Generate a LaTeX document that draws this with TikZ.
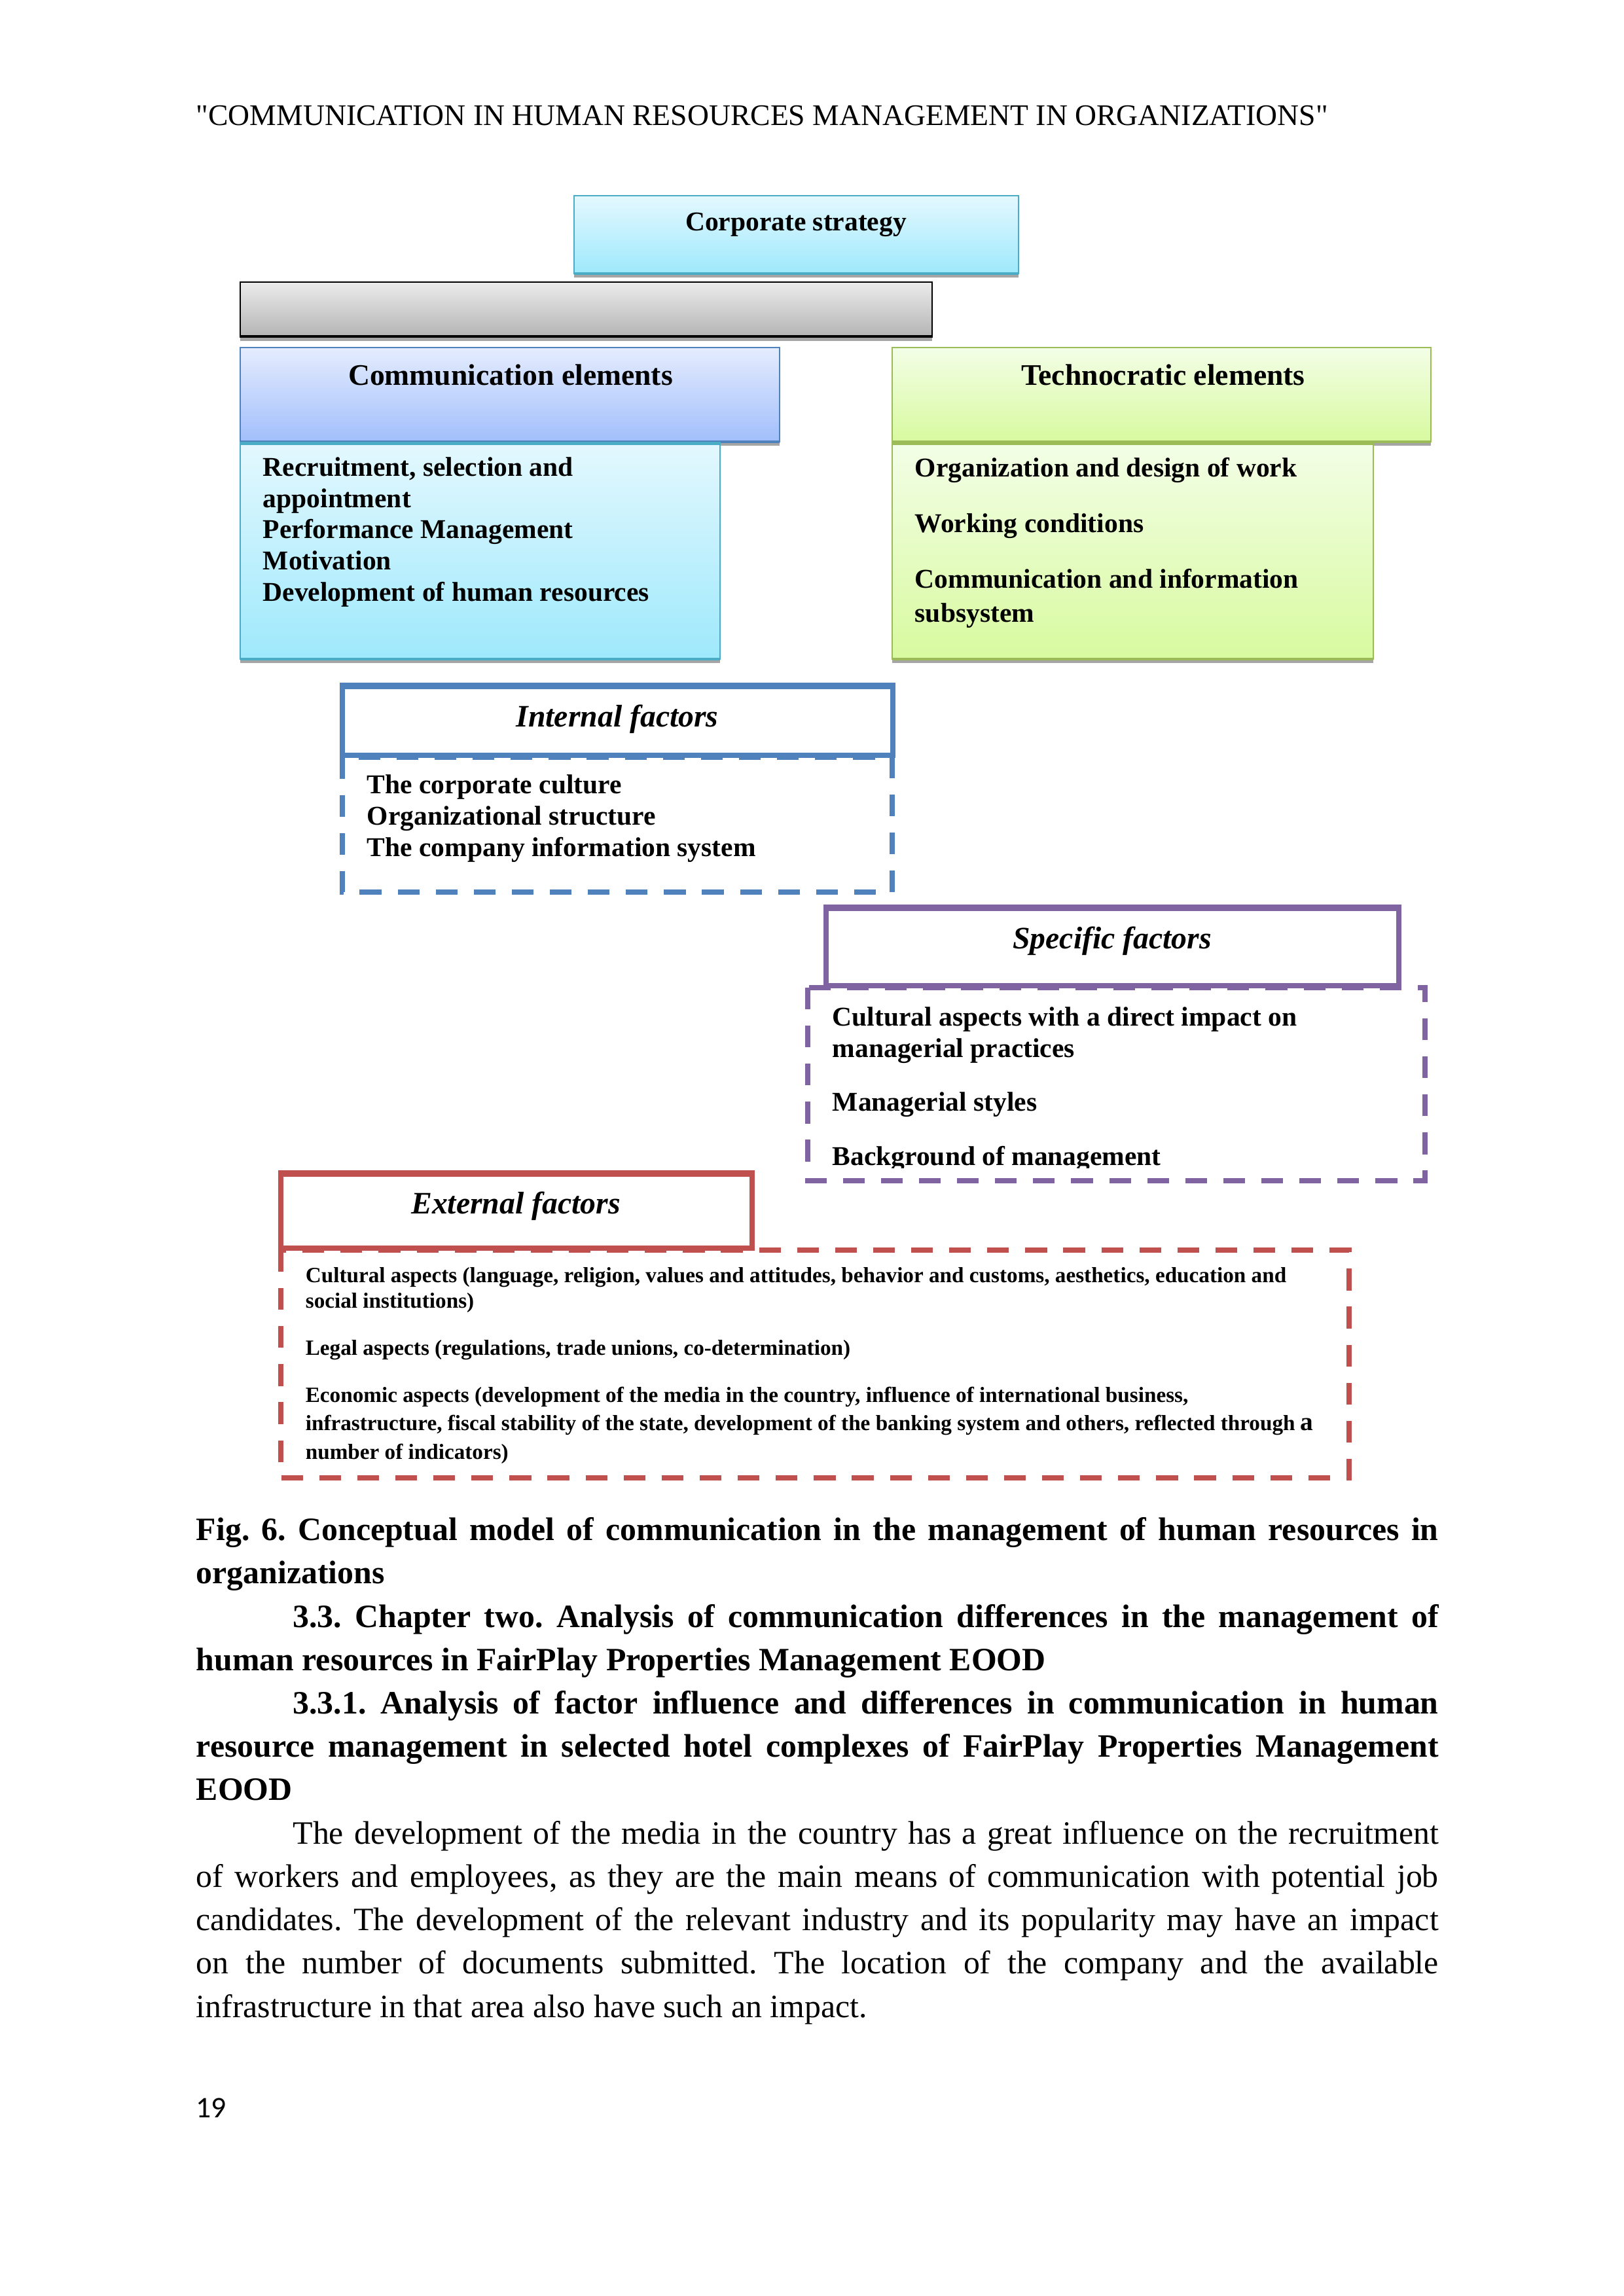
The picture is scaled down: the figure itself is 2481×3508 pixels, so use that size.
\documentclass[tikz,border=0pt]{standalone}
\usepackage{fontspec}
\setmainfont{Liberation Serif}
\newfontfamily\headserif{Liberation Serif}
\newfontfamily\pagenofont{Carlito}
\definecolor{tealline}{HTML}{4BACC6}
\definecolor{blueline}{HTML}{4F81BD}
\definecolor{greenline}{HTML}{9BBB59}
\definecolor{purpleline}{HTML}{8064A2}
\definecolor{redline}{HTML}{C0504D}
\definecolor{shadowgray}{HTML}{A5A5A5}
\definecolor{cyantop}{HTML}{E4F8FE}
\definecolor{cyanbot}{HTML}{9EE9FC}
\definecolor{bluetop}{HTML}{E5ECFE}
\definecolor{bluebot}{HTML}{A1BFFB}
\definecolor{greentop}{HTML}{F3FEE7}
\definecolor{greenbot}{HTML}{D8FA9F}
\definecolor{graytop}{HTML}{EBEBEB}
\definecolor{graybot}{HTML}{B4B4B4}

\begin{document}
\begin{tikzpicture}[x=0.2409pt,y=-0.2409pt,
		shadowfill/.style={fill=shadowgray},
		itemtext/.style={anchor=base west,inner sep=0pt,align=left,font=\fontsize{10}{11.45}\selectfont\bfseries},
		smalltext/.style={anchor=base west,inner sep=0pt,align=left,font=\fontsize{8}{9.2}\selectfont\bfseries},
		headtext/.style={anchor=base,inner sep=0pt,font=\fontsize{11}{13}\selectfont\bfseries},
		factortext/.style={anchor=base,inner sep=0pt,font=\fontsize{11.5}{14}\selectfont\bfseries\itshape},
		dashbox/.style={line width=1.9pt,dash pattern=on 8pt off 6pt},
		factorbox/.style={line width=1.9pt,fill=white}]
			\useasboundingbox (0,0) rectangle (2481,3508);
			\node[anchor=base west,inner sep=0pt,font=\headserif\fontsize{11}{13}\selectfont] (runhead) at (299,191) {"COMMUNICATION IN HUMAN RESOURCES MANAGEMENT IN ORGANIZATIONS"};
			% corporate strategy
			\fill[shadowfill] (877,305) rectangle (1556,424);
			\shade[top color=cyantop,bottom color=cyanbot] (877,299) rectangle (1556,418);
			\draw[tealline,line width=0.35pt] (877,299) rectangle (1556,418);
			\draw[tealline,line width=0.6pt] (877,299)--(1556,299);
			\draw[tealline,line width=0.8pt] (877,418)--(1556,418);
			\node[headtext,font=\fontsize{10}{12}\selectfont\bfseries] (corp) at (1216,352) {Corporate strategy};
			% gray bar
			\fill[shadowfill] (367,437) rectangle (1424,521);
			\shade[top color=graytop,bottom color=graybot] (367,431) rectangle (1424,515);
			\draw[black,line width=0.5pt] (367,431) rectangle (1424,515);
			\draw[black,line width=1pt] (367,514)--(1424,514);
			% communication elements
			\fill[shadowfill] (367,537) rectangle (1191,681);
			\shade[top color=bluetop,bottom color=bluebot] (367,531) rectangle (1191,675);
			\draw[blueline,line width=0.4pt] (367,531) rectangle (1191,675);
			\draw[blueline,line width=0.6pt] (367,531)--(1191,531);
			\draw[blueline,line width=0.8pt] (367,675)--(1191,675);
			\node[headtext] (commhead) at (780,588) {Communication elements};
			\fill[shadowfill] (367,681) rectangle (1100,1013);
			\shade[top color=cyantop,bottom color=cyanbot] (367,676) rectangle (1100,1007);
			\draw[tealline,line width=0.35pt] (367,676) rectangle (1100,1007);
			\draw[tealline,line width=0.8pt] (367,678)--(1100,678);
			\draw[tealline,line width=0.9pt] (367,1007)--(1100,1007);
			\node[itemtext] (commlist) at (401,918) {Recruitment, selection and\\appointment\\Performance Management\\Motivation\\Development of human resources};
			% technocratic elements
			\fill[shadowfill] (1363,537) rectangle (2186,681);
			\shade[top color=greentop,bottom color=greenbot] (1363,531) rectangle (2186,675);
			\draw[greenline,line width=0.4pt] (1363,531) rectangle (2186,675);
			\draw[greenline,line width=0.6pt] (1363,531)--(2186,531);
			\draw[greenline,line width=0.8pt] (1363,675)--(2186,675);
			\node[headtext] (techhead) at (1777,588) {Technocratic elements};
			\fill[shadowfill] (1363,681) rectangle (2098,1013);
			\shade[top color=greentop,bottom color=greenbot] (1363,676) rectangle (2098,1007);
			\draw[greenline,line width=0.35pt] (1363,676) rectangle (2098,1007);
			\draw[greenline,line width=0.8pt] (1363,678)--(2098,678);
			\draw[greenline,line width=0.9pt] (1363,1007)--(2098,1007);
			\node[itemtext] (techorg) at (1397,728) {Organization and design of work};
			\node[itemtext] (techwork) at (1397,813) {Working conditions};
			\node[itemtext,font=\fontsize{10}{12.4}\selectfont\bfseries] (techcomm) at (1397,950) {Communication and information\\subsystem};
			% internal factors
			\draw[blueline,dashbox] (523,1157) rectangle (1363,1363);
			\draw[blueline,factorbox] (523,1049) rectangle (1364,1154);
			\draw[blueline,line width=2.2pt] (519,1048)--(1368,1048);
			\node[factortext] (inthead) at (943,1110) {Internal factors};
			\node[itemtext] (intlist) at (560,1308) {The corporate culture\\Organizational structure\\The company information system};
			% specific factors
			\draw[purpleline,dashbox] (1234,1509) rectangle (2177,1804);
			\draw[purpleline,factorbox] (1262,1388) rectangle (2137,1506);
			\draw[purpleline,line width=2.2pt] (1258,1387)--(2141,1387);
			\node[factortext] (spechead) at (1699,1449) {Specific factors};
			\node[itemtext] (speccult) at (1271,1615) {Cultural aspects with a direct impact on\\managerial practices};
			\node[itemtext] (specstyle) at (1271,1697) {Managerial styles};
			\begin{scope}
				\clip (1240,1700) rectangle (2170,1784);
				\node[itemtext] (specback) at (1271,1780) {Background of management};
			\end{scope}
			% external factors
			\draw[redline,dashbox] (429,1910) rectangle (2061,2258);
			\draw[redline,factorbox] (429,1794) rectangle (1149,1907);
			\draw[redline,line width=2.2pt] (425,1793)--(1153,1793);
			\node[factortext] (exthead) at (788,1854) {External factors};
			\node[smalltext] (extcult) at (466,1998) {Cultural aspects (language, religion, values and attitudes, behavior and customs, aesthetics, education and\\social institutions)};
			\node[smalltext] (extlegal) at (466,2070) {Legal aspects (regulations, trade unions, co-determination)};
			\node[smalltext,font=\fontsize{8}{10.4}\selectfont\bfseries] (extecon) at (466,2229) {Economic aspects (development of the media in the country, influence of international business,\\infrastructure, fiscal stability of the state, development of the banking system and others, reflected through {\fontsize{9.5}{10}\selectfont a}\\number of indicators)};
			% caption and text below
			\node[anchor=base west,inner sep=0pt,align=left,font=\fontsize{12}{15.95}\selectfont\frenchspacing] (pagetext) at (299,3082) {%
				\makebox[457.2pt][s]{\bfseries Fig. 6. Conceptual model of communication in the management of human resources in}\\
				{\bfseries organizations}\\
				\hspace*{35.6pt}\makebox[421.6pt][s]{\bfseries 3.3. Chapter two. Analysis of communication differences in the management of}\\
				{\bfseries human resources in FairPlay Properties Management EOOD}\\
				\hspace*{35.6pt}\makebox[421.6pt][s]{\bfseries 3.3.1. Analysis of factor influence and differences in communication in human}\\
				\makebox[457.2pt][s]{\bfseries resource management in selected hotel complexes of FairPlay Properties Management}\\
				{\bfseries EOOD}\\
				\hspace*{35.6pt}\makebox[421.6pt][s]{The development of the media in the country has a great influence on the recruitment}\\
				\makebox[457.2pt][s]{of workers and employees, as they are the main means of communication with potential job}\\
				\makebox[457.2pt][s]{candidates. The development of the relevant industry and its popularity may have an impact}\\
				\makebox[457.2pt][s]{on the number of documents submitted. The location of the company and the available}\\
				infrastructure in that area also have such an impact.};
			\node[anchor=base west,inner sep=0pt,font=\pagenofont\fontsize{11}{13}\selectfont] (pageno) at (299,3235) {19};
		\end{tikzpicture}
\end{document}
